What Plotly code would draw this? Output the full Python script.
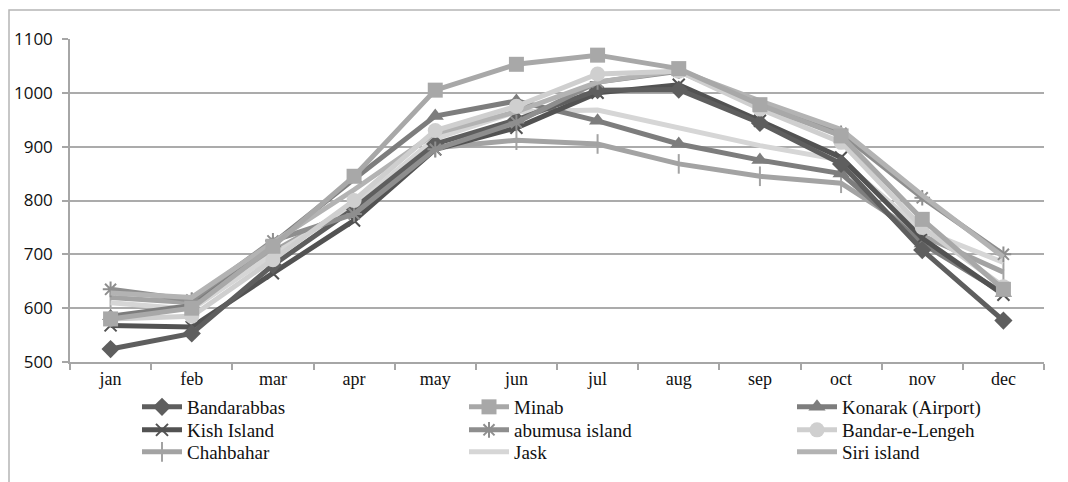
import plotly.graph_objects as go

months = ["jan", "feb", "mar", "apr", "may", "jun", "jul", "aug", "sep", "oct", "nov", "dec"]

bandarabbas = [524, 553, 680, 785, 905, 950, 1005, 1006, 944, 868, 708, 577]
kish = [568, 565, 665, 763, 895, 935, 1000, 1015, 948, 880, 730, 625]
minab = [580, 600, 715, 845, 1005, 1053, 1070, 1045, 978, 920, 765, 635]
konarak = [585, 605, 720, 840, 957, 985, 948, 905, 875, 850, 720, 628]
abumusa = [635, 615, 725, 775, 895, 945, 1020, 1040, 975, 925, 805, 700]
lengeh = [580, 585, 690, 800, 930, 975, 1035, 1040, 970, 908, 750, 640]
chahbahar = [620, 610, 705, 790, 898, 912, 905, 868, 845, 832, 735, 667]
jask = [610, 598, 700, 790, 915, 965, 968, 935, 902, 875, 745, 685]
siri = [628, 620, 722, 820, 925, 965, 1020, 1042, 985, 932, 810, 695]

# legend grid: 3 columns x 3 rows (page is offset 8px by the body margin)
col_x = [129, 456, 784]
row_y = [380, 403, 425]

series = [
    # name, values, color, marker symbol, marker size, (col, row)
    ("Bandarabbas", bandarabbas, "#5e5e5e", "diamond", 14, (0, 0)),
    ("Minab", minab, "#a8a8a8", "square", 15, (1, 0)),
    ("Konarak (Airport)", konarak, "#7d7d7d", "triangle-up", 15, (2, 0)),
    ("Kish Island", kish, "#525252", "x-thin", 12, (0, 1)),
    ("abumusa island", abumusa, "#8e8e8e", "asterisk", 13, (1, 1)),
    ("Bandar-e-Lengeh", lengeh, "#cfcfcf", "circle", 15, (2, 1)),
    ("Chahbahar", chahbahar, "#a3a3a3", "line-ns", 14, (0, 2)),
    ("Jask", jask, "#d6d6d6", None, 0, (1, 2)),
    ("Siri island", siri, "#b3b3b3", None, 0, (2, 2)),
]

draw_order = ["Chahbahar", "Jask", "Konarak (Airport)", "Kish Island", "Bandarabbas",
              "abumusa island", "Siri island", "Bandar-e-Lengeh", "Minab"]

W, H = 1060, 474
fig = go.Figure()
lookup = {s[0]: s for s in series}
legend_ids = {s[0]: ("legend" if i == 0 else f"legend{i + 1}") for i, s in enumerate(series)}

for nm in draw_order:
    name, vals, color, sym, size, _ = lookup[nm]
    if sym is None:
        mode = "lines"
        marker = None
    else:
        mode = "lines+markers"
        if sym in ("x-thin", "asterisk", "line-ns"):
            marker = dict(symbol=sym, size=size, color=color, line=dict(color=color, width=2))
        else:
            marker = dict(symbol=sym, size=size, color=color, line=dict(width=0))
    fig.add_trace(go.Scatter(
        x=months, y=vals, name=name, mode=mode,
        line=dict(color=color, width=5),
        marker=marker, legend=legend_ids[name],
    ))

legend_font = dict(family="Liberation Serif, Times New Roman, serif", size=19, color="#111111")
legends = {}
for name, _, _, _, _, (c, r) in series:
    legends[legend_ids[name]] = dict(
        xref="container", yref="container", xanchor="left", yanchor="top",
        x=col_x[c] / W, y=1 - row_y[r] / H,
        orientation="v", font=legend_font, bgcolor="rgba(0,0,0,0)",
        itemwidth=40,
    )

fig.update_layout(
    width=W, height=H,
    font=dict(family="Liberation Serif, Times New Roman, serif", size=18, color="#111111"),
    margin=dict(l=62, r=24, t=31, b=120, autoexpand=False),
    paper_bgcolor="white", plot_bgcolor="white",
    showlegend=True,
    **legends,
    xaxis=dict(
        tickson="boundaries", ticks="outside", ticklen=6, tickcolor="#a6a6a6", tickwidth=1.5,
        showline=True, linecolor="#a6a6a6", linewidth=1.5, showgrid=False,
        tickfont=dict(family="Liberation Serif, Times New Roman, serif", size=18, color="#111111"),
        range=[-0.5, 11.5], fixedrange=True, tickangle=0,
    ),
    yaxis=dict(
        range=[500, 1100], dtick=100, tick0=500,
        showgrid=True, gridcolor="#ababab", gridwidth=1.5,
        showline=True, linecolor="#a6a6a6", linewidth=1.5,
        ticks="outside", ticklen=6, tickcolor="#a6a6a6", tickwidth=1.5,
        ticklabelstandoff=6,
        tickfont=dict(family="Open Sans", size=17, color="#111111"),
        zeroline=False, fixedrange=True,
    ),
)

pw, ph = W - 62 - 24, H - 31 - 120
fig.add_shape(type="rect", xref="paper", yref="paper",
              x0=(1 - 62) / pw, x1=(W + 6 - 62) / pw,
              y0=-(120 + 6) / ph, y1=(ph + 29) / ph,
              line=dict(color="#b5b5b5", width=1.5), fillcolor="rgba(0,0,0,0)", layer="below")

fig.write_html("out.html")
